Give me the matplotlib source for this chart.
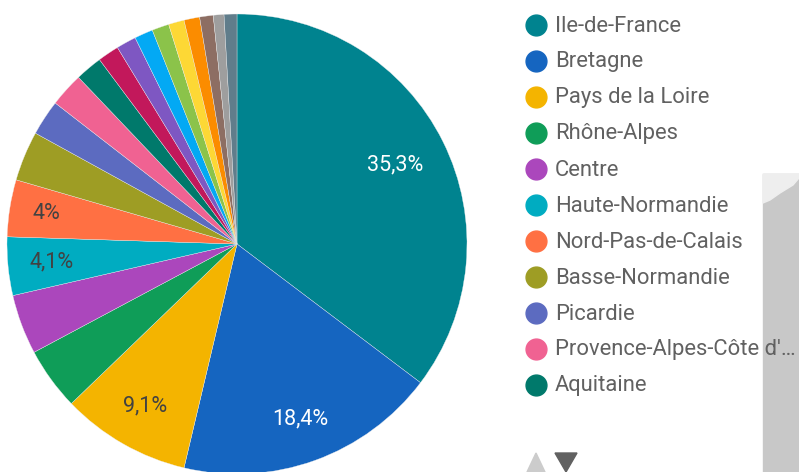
import matplotlib.pyplot as plt
import numpy as np
from matplotlib.patches import Polygon, Rectangle

plt.rcParams['font.family'] = ['Roboto', 'DejaVu Sans']

regions = ['Ile-de-France', 'Bretagne', 'Pays de la Loire', 'Rhône-Alpes', 'Centre',
           'Haute-Normandie', 'Nord-Pas-de-Calais', 'Basse-Normandie', 'Picardie',
           "Provence-Alpes-Côte d'Azur", 'Aquitaine', 'Midi-Pyrénées', 'Lorraine',
           'Languedoc-Roussillon', 'Bourgogne', 'Alsace', 'Poitou-Charentes',
           'Auvergne', 'Champagne-Ardenne', 'Autres']
shares = [35.3, 18.4, 9.1, 4.4, 4.2, 4.1, 4.0, 3.5, 2.5, 2.4, 1.9, 1.5, 1.4,
          1.3, 1.2, 1.1, 1.1, 0.95, 0.75, 0.9]
colors = ['#00838f', '#1565c0', '#f4b400', '#0f9d58', '#ab47bc', '#00acc1',
          '#ff7043', '#9e9d24', '#5c6bc0', '#f06292', '#00796b', '#c2185b',
          '#7e57c2', '#03a9f4', '#8bc34a', '#fdd835', '#fb8c00', '#8d6e63',
          '#9e9e9e', '#607d8b']
labelled = [0, 1, 2, 5, 6]   # slices that show a value label
n_legend = 11

W, H = 799, 472
fig = plt.figure(figsize=(W / 100, H / 100), dpi=100)
ax = fig.add_axes([0, 0, 1, 1])
ax.set_xlim(0, W)
ax.set_ylim(0, H)
ax.set_aspect('equal')
ax.axis('off')

def py(y):
    # pixel row (from top) -> data y
    return H - y

# gray block on the right edge
ax.add_patch(Rectangle((763, py(472)), 36, 298, color='#c8c8c8', zorder=0))
ax.add_patch(Polygon([(763, py(174)), (799, py(174)), (799, py(178)), (793, py(185)),
                      (780, py(193)), (770, py(200)), (763, py(203))],
                     closed=True, color='#eeeeee', zorder=0))

cx, cy, R = 237, py(244), 230
wedges, _ = ax.pie(shares, colors=colors, center=(cx, cy), radius=R,
                   startangle=90, counterclock=False,
                   wedgeprops=dict(linewidth=0.25, edgecolor='#eeeeee'))
ax.set_xlim(0, W)
ax.set_ylim(0, H)

total = sum(shares)
label_r = {0: 0.77, 1: 0.81, 2: 0.81, 5: 0.81, 6: 0.84}
for i in labelled:
    w = wedges[i]
    mid = np.deg2rad((w.theta1 + w.theta2) / 2)
    r = label_r[i] * R
    pct = shares[i] / total * 100
    txt = f'{pct:.1f}'.rstrip('0').rstrip('.').replace('.', ',') + '%'
    col = 'white' if i in (0, 1) else '#424242'
    ax.text(cx + r * np.cos(mid), cy + r * np.sin(mid), txt, color=col,
            fontsize=15.5, ha='center', va='center')

# legend
for i in range(n_legend):
    y = py(25 + 36 * i)
    ax.plot(536, y, marker='o', markersize=15, color=colors[i], linestyle='')
    name = regions[i]
    if len(name) > 23:
        name = name[:22] + '…'
    ax.text(555, y - 1, name, color='#616161', fontsize=15.8, ha='left', va='center')

# pagination arrows
ax.add_patch(Polygon([(536, py(453)), (527, py(472)), (545, py(472))], closed=True,
                     color='#cccccc'))
ax.add_patch(Polygon([(555, py(453)), (577, py(453)), (566, py(472))], closed=True,
                     color='#616161'))

fig.savefig('out.png', dpi=100)
